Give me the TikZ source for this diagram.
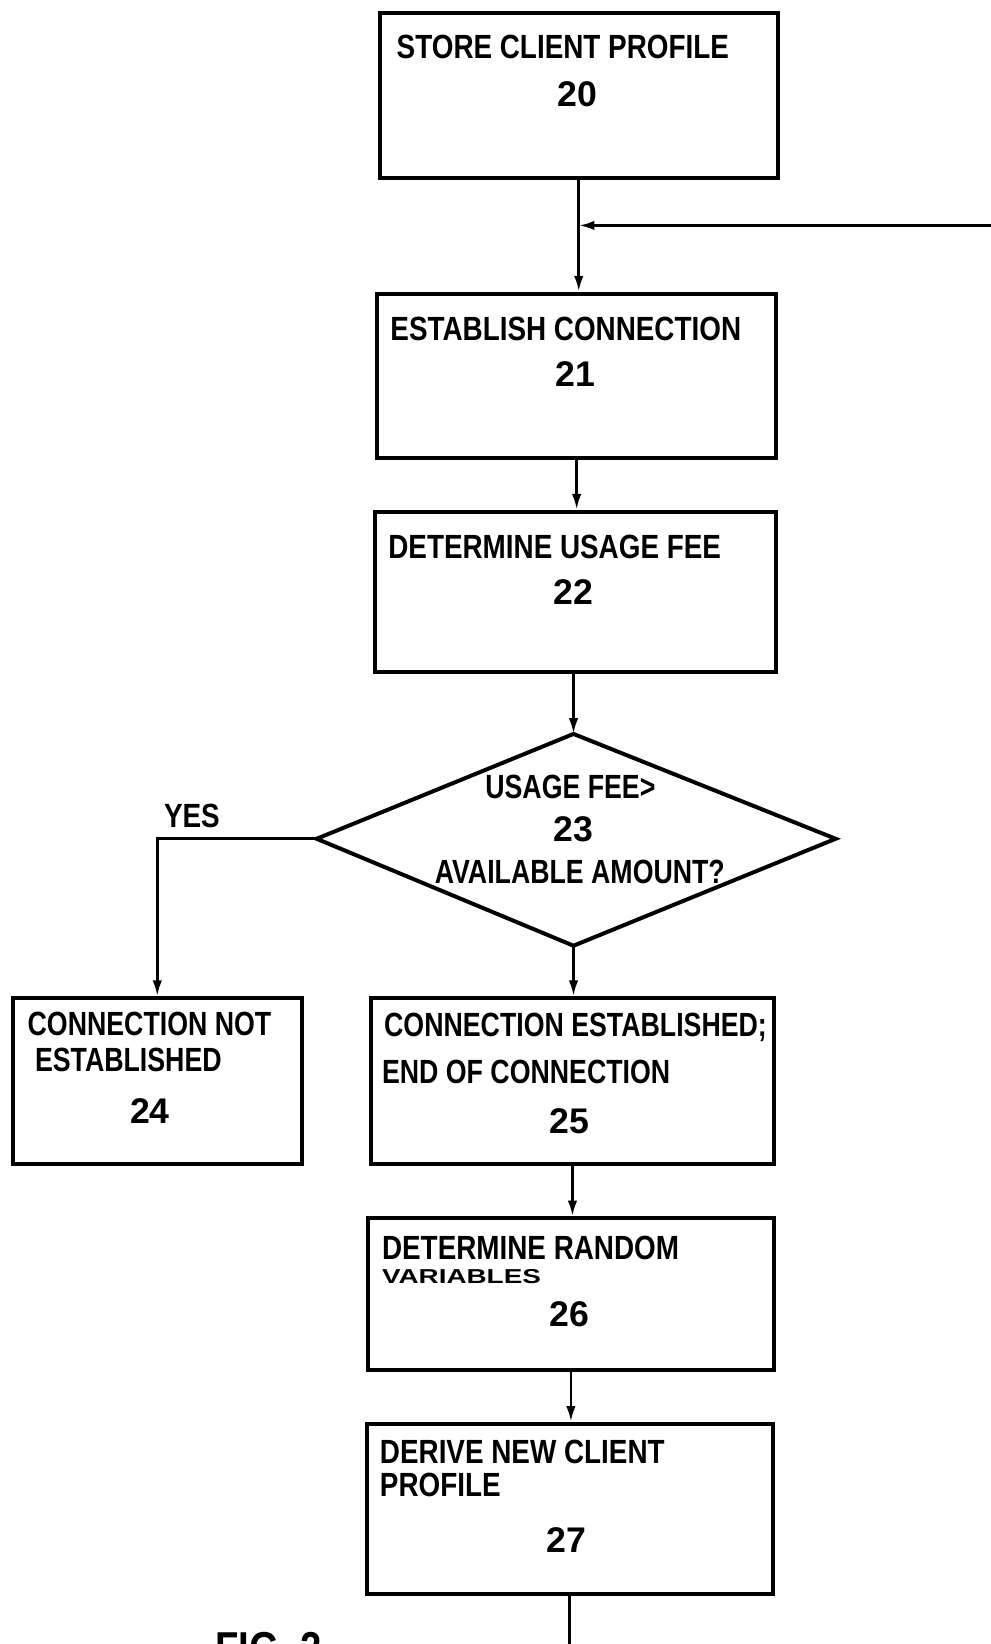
\documentclass[tikz,border=0pt]{standalone}
\usepackage{fontspec}
\usepackage{graphicx}
\setmainfont[FakeStretch=0.83]{Liberation Sans}
\newfontfamily\numfont{Liberation Sans}
\newcommand{\narrowtxt}[1]{\scalebox{0.96}[1]{#1}}
\usetikzlibrary{arrows.meta}
\begin{document}
\begin{tikzpicture}[x=0.5pt,y=-0.5pt,
  bx/.style 2 args={draw, line width=1.9pt, inner sep=0pt, minimum width=#1*0.5pt, minimum height=#2*0.5pt},
  lab/.style={anchor=west, inner sep=0pt, font=\fontsize{16}{19}\selectfont\bfseries},
  ctr/.style={inner sep=0pt, font=\fontsize{16}{19}\selectfont\bfseries},
  num/.style={inner sep=0pt, font=\numfont\fontsize{17}{20}\selectfont\bfseries},
  ln/.style={line width=1.3pt},
  conn/.style={line width=1.3pt, -{Latex[length=7.5pt,width=4.5pt]}}]
\useasboundingbox (0,0) rectangle (945,1568);
\clip (0,0) rectangle (945,1568);
% boxes
\node[bx={380}{158}] (b20) at (552,91) {};
\node[bx={380}{157}] (b21) at (550,358.5) {};
\node[bx={382}{153}] (b22) at (549,564.5) {};
\node[bx={276}{158}] (b24) at (150,1031) {};
\node[bx={384}{158}] (b25) at (546,1031) {};
\node[bx={387}{145}] (b26) at (544.5,1234.5) {};
\node[bx={387}{162}] (b27) at (543.5,1439) {};
% diamond
\coordinate (dT) at (547,700);
\coordinate (dL) at (302,800);
\coordinate (dR) at (797,800);
\coordinate (dB) at (547,902);
\draw[line width=1.9pt, line join=miter] (dT) -- (dR) -- (dB) -- (dL) -- cycle;
% texts
\node[lab] (t20) at (378,45) {STORE CLIENT PROFILE};
\node[num] (n20) at (551,90) {20};
\node[lab] (t21) at (372,314) {ESTABLISH CONNECTION};
\node[num] (n21) at (549,357) {21};
\node[lab] (t22) at (370,522) {DETERMINE USAGE FEE};
\node[num] (n22) at (547,565) {22};
\node[ctr] (t23a) at (544,751) {\narrowtxt{USAGE FEE>}};
\node[num] (n23) at (547,791) {23};
\node[ctr] (t23b) at (553,832) {\narrowtxt{AVAILABLE AMOUNT?}};
\node[ctr] (yes) at (183,778) {YES};
\node[lab] (t24a) at (26,977) {\narrowtxt{CONNECTION NOT}};
\node[lab] (t24b) at (33,1011) {\narrowtxt{ESTABLISHED}};
\node[num] (n24) at (143,1060) {24};
\node[lab] (t25a) at (366,980) {\narrowtxt{CONNECTION ESTABLISHED;}};
\node[lab] (t25b) at (364,1022) {\narrowtxt{END OF CONNECTION}};
\node[num] (n25) at (543,1069) {25};
\node[lab] (t26a) at (364,1190) {DETERMINE RANDOM};
\node[lab] (t26b) at (364,1218) {\scalebox{1}[0.6]{VARIABLES}};
\node[num] (n26) at (543,1253) {26};
\node[lab] (t27a) at (362,1385) {DERIVE NEW CLIENT};
\node[lab] (t27b) at (362,1416) {PROFILE};
\node[num] (n27) at (540,1469) {27};
\node[anchor=north west, inner sep=0pt, font=\fontsize{22}{26}\selectfont\bfseries] (fig) at (205,1556) {FIG. 2};
% connectors
\coordinate (fbin) at (960,215);
\coordinate (out) at (543.5,1600);
\draw[conn] (b20.south) -- (b20.south |- b21.north);
\draw[conn] (fbin) -- (fbin -| b20.south);
\draw[conn] (b21.south) -- (b21.south |- b22.north);
\draw[conn] (b22.south -| dT) -- (dT);
\draw[conn] (dB) -- (dB |- b25.north);
\draw[conn] (dL) -| (b24.north);
\draw[conn] (b25.south) -- (b25.south |- b26.north);
\draw[conn] (b26.south) -- (b26.south |- b27.north);
\draw[ln] (b27.south) -- (out);
\end{tikzpicture}
\end{document}
